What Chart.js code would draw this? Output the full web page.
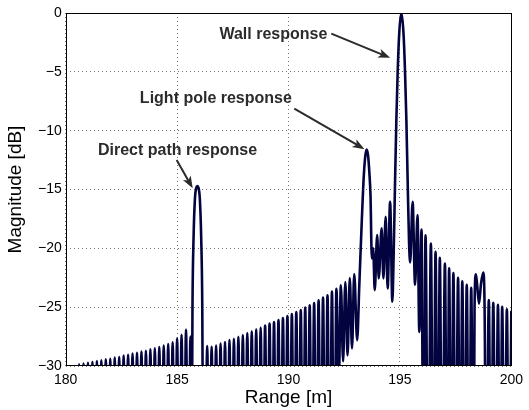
<!DOCTYPE html>
<html lang="en">
<head>
  <meta charset="UTF-8" />
  <title>Range profile</title>
  <script src="https://cdn.jsdelivr.net/npm/chart.js"></script>
  <style>
    html, body { margin: 0; padding: 0; background: #ffffff; }
    #wrap { width: 529px; height: 410px; position: relative; }
  </style>
</head>
<body>
  <div id="wrap"><canvas id="grafico"></canvas></div>

  <script>
    // sidelobes before the direct path return (troughs fall below the axis)
    var rangeSideA = [180.5, 180.6, 180.7, 180.8, 180.9, 181.0, 181.1, 181.2, 181.3, 181.4, 181.5, 181.6, 181.7,
      181.8, 181.9, 182.0, 182.1, 182.2, 182.3, 182.4, 182.5, 182.6, 182.7, 182.8, 182.9, 183.0, 183.1, 183.2,
      183.3, 183.4, 183.5, 183.6, 183.7, 183.8, 183.9, 184.0, 184.1, 184.2, 184.3, 184.4, 184.5, 184.6, 184.7,
      184.8, 184.9, 185.0, 185.1, 185.2, 185.3, 185.4, 185.5, 185.6];
    var magSideA = [-45, -29.86, -45, -29.8, -45, -29.72, -45, -29.66, -45, -29.58, -45, -29.52, -45,
      -29.43, -45, -29.38, -45, -29.29, -45, -29.24, -45, -29.12, -45, -29.04, -45, -28.95, -45, -28.87,
      -45, -28.78, -45, -28.7, -45, -28.58, -45, -28.5, -45, -28.39, -45, -28.27, -45, -28.13, -45,
      -27.99, -45, -27.65, -45, -27.35, -45, -26.9, -45, -27.5];

    // direct path main lobe
    var rangeDirect = [185.65, 185.69, 185.74, 185.8, 185.86, 185.91, 185.96, 186.02, 186.08, 186.13, 186.17];
    var magDirect = [-40, -25, -19, -15.8, -14.85, -14.7, -14.85, -15.8, -19, -25, -40];

    // sidelobes between direct path and light pole
    var rangeSideB = [186.25, 186.35, 186.45, 186.55, 186.65, 186.75, 186.85, 186.95, 187.05, 187.15,
      187.25, 187.35, 187.45, 187.55, 187.65, 187.75, 187.85, 187.95, 188.05, 188.15, 188.25, 188.35,
      188.45, 188.55, 188.65, 188.75, 188.85, 188.95, 189.05, 189.15, 189.25, 189.35, 189.45, 189.55,
      189.65, 189.75, 189.85, 189.95, 190.05, 190.15, 190.25, 190.35, 190.45, 190.55, 190.65, 190.75,
      190.85, 190.95, 191.05, 191.15, 191.25, 191.35, 191.45, 191.55, 191.65, 191.75, 191.85, 191.95,
      192.05, 192.15, 192.25, 192.35, 192.45, 192.55, 192.65, 192.75, 192.85, 192.95];
    var magSideB = [-45, -28.3, -45, -28.36, -45, -28.27, -45, -28.1, -45, -27.96,
      -45, -27.79, -45, -27.68, -45, -27.51, -45, -27.37, -45, -27.2, -45, -27.05,
      -45, -26.88, -45, -26.74, -45, -26.57, -45, -26.4, -45, -26.26, -45, -26.09,
      -45, -25.92, -45, -25.75, -45, -25.58, -45, -25.41, -45, -25.24, -45, -25.04,
      -45, -24.84, -45, -24.65, -45, -24.42, -45, -24.19, -45, -23.99, -45, -23.68,
      -45, -23.43, -32, -23.14, -29.6, -22.86, -29.1, -22.52, -28.5, -22.18];

    // light pole lobe, interference ripple and wall lobe
    var rangePoleWall = [193.08, 193.18, 193.29, 193.38, 193.45, 193.51, 193.57, 193.63, 193.68, 193.74,
      193.8, 193.87, 193.98, 194.05, 194.18, 194.26, 194.36, 194.45, 194.56, 194.66,
      194.72, 194.78, 194.84, 194.9, 194.97, 195.065, 195.16, 195.23, 195.29, 195.35, 195.41,
      195.46, 195.57, 195.68, 195.79, 195.87, 195.97];
    var magPoleWall = [-27.8, -23, -17.6, -13.8, -12.1, -11.6, -12.1, -13.6, -15.5, -20.85,
      -20.0, -23.55, -18.87, -22.55, -18.3, -22.55, -17.31, -23.4, -16.04, -24.53,
      -20.5, -14.5, -9.1, -5, -1.7, 0, -1.7, -5, -9.1, -14.5, -19.5,
      -21.2, -16.04, -23.1, -17.17, -27.1, -18.4];

    // sidelobes past the wall, with the small double hump near 198.5 m
    var rangeSideC = [196.06, 196.15, 196.27, 196.39, 196.5, 196.6, 196.7, 196.79, 196.9, 197.02,
      197.12, 197.21, 197.3, 197.4, 197.5, 197.61, 197.7, 197.8, 197.9, 198.0, 198.1, 198.2,
      198.3, 198.35, 198.41, 198.47, 198.55, 198.64, 198.74, 198.8, 198.88,
      198.99, 199.09, 199.19, 199.3, 199.4, 199.5, 199.59, 199.7, 199.8, 199.9, 200.0];
    var magSideC = [-45, -18.9, -45, -19.6, -45, -20.3, -45, -20.8, -45, -21.3,
      -45, -21.7, -45, -22.1, -45, -22.5, -45, -22.8, -45, -23.1, -45, -23.35,
      -45, -25, -22.2, -23.2, -24.7, -23.0, -22.05, -25, -45,
      -24.4, -45, -24.63, -45, -24.8, -45, -24.97, -45, -25.19, -45, -25.4];

    var xTicks = [180, 185, 190, 195, 200];
    var yTicks = [0, -5, -10, -15, -20, -25, -30];

    // labels with arrows, in data units
    var notas = [
      { text: 'Wall response', x: 189.32, y: -1.84, fromX: 191.92, fromY: -1.75, toX: 194.56, toY: -3.81 },
      { text: 'Light pole response', x: 186.74, y: -7.3, fromX: 190.26, fromY: -8.12, toX: 193.41, toY: -11.57 },
      { text: 'Direct path response', x: 185.02, y: -11.69, fromX: 184.98, fromY: -12.49, toX: 185.7, toY: -14.89 }
    ];

    var rangeAll = [].concat(rangeSideA, rangeDirect, rangeSideB, rangePoleWall, rangeSideC);
    var magAll = [].concat(magSideA, magDirect, magSideB, magPoleWall, magSideC);
    var pontos = rangeAll.map(function (r, i) { return { x: r, y: magAll[i] }; });

    var corTexto = '#2b2b2b';

    function desenharSeta(ctx, x0, y0, x1, y1) {
      var ang = Math.atan2(y1 - y0, x1 - x0);
      var c = Math.cos(ang), s = Math.sin(ang);
      var comp = 12, meia = 4.5;
      ctx.lineWidth = 2;
      ctx.beginPath();
      ctx.moveTo(x0, y0);
      ctx.lineTo(x1 - comp * 0.7 * c, y1 - comp * 0.7 * s);
      ctx.stroke();
      var bx = x1 - comp * c, by = y1 - comp * s;
      ctx.beginPath();
      ctx.moveTo(x1, y1);
      ctx.lineTo(bx + meia * s, by - meia * c);
      ctx.lineTo(x1 - comp * 0.75 * c, y1 - comp * 0.75 * s);
      ctx.lineTo(bx - meia * s, by + meia * c);
      ctx.closePath();
      ctx.fill();
    }

    // axes box and the annotation labels
    var caixaENotas = {
      id: 'caixaENotas',
      afterDatasetsDraw: function (chart) {
        var ctx = chart.ctx, a = chart.chartArea;
        var sx = chart.scales.x, sy = chart.scales.y;
        ctx.save();
        ctx.strokeStyle = '#000';
        ctx.lineWidth = 1;
        ctx.strokeRect(Math.round(a.left) + 0.5, Math.round(a.top) + 0.5,
          Math.round(a.right - a.left) - 1, Math.round(a.bottom - a.top) - 1);

        ctx.font = 'bold 16px "Liberation Sans", Arial, sans-serif';
        ctx.fillStyle = corTexto;
        ctx.strokeStyle = corTexto;
        ctx.textAlign = 'center';
        ctx.textBaseline = 'middle';
        notas.forEach(function (n) {
          ctx.fillText(n.text, sx.getPixelForValue(n.x), sy.getPixelForValue(n.y));
          desenharSeta(ctx,
            sx.getPixelForValue(n.fromX), sy.getPixelForValue(n.fromY),
            sx.getPixelForValue(n.toX), sy.getPixelForValue(n.toY));
        });
        ctx.restore();
      }
    };

    var fonteEixo = { family: '"Liberation Sans", Arial, sans-serif', size: 14 };
    var fonteTitulo = { family: '"Liberation Sans", Arial, sans-serif', size: 19 };

    new Chart(document.getElementById('grafico'), {
      type: 'line',
      data: {
        datasets: [{
          data: pontos,
          borderColor: '#03033f',
          borderWidth: 2.6,
          pointRadius: 0,
          cubicInterpolationMode: 'monotone',
          borderJoinStyle: 'round',
          borderCapStyle: 'round',
          fill: false
        }]
      },
      options: {
        responsive: true,
        maintainAspectRatio: false,
        animation: false,
        devicePixelRatio: 1,
        layout: { padding: { left: 0, top: 13, right: 15.5, bottom: 0 } },
        plugins: { legend: { display: false }, tooltip: { enabled: false } },
        scales: {
          x: {
            type: 'linear',
            min: 180,
            max: 200,
            afterBuildTicks: function (s) { s.ticks = xTicks.map(function (v) { return { value: v }; }); },
            afterFit: function (s) { s.height = 44; },
            ticks: { color: '#000', font: fonteEixo, padding: 6, maxRotation: 0 },
            grid: { color: 'rgba(0,0,0,0.55)', lineWidth: 1, drawTicks: false },
            border: { display: false, dash: [1, 3] },
            title: { display: true, text: 'Range [m]', color: '#000', font: fonteTitulo, padding: { top: 0, bottom: 0.5 } }
          },
          y: {
            type: 'linear',
            min: -30,
            max: 0,
            afterBuildTicks: function (s) { s.ticks = yTicks.map(function (v) { return { value: v }; }); },
            afterFit: function (s) { s.width = 65.7; },
            ticks: {
              color: '#000', font: fonteEixo, padding: 4,
              callback: function (v) { return String(v).replace('-', '\u2212'); }
            },
            grid: { color: 'rgba(0,0,0,0.55)', lineWidth: 1, drawTicks: false },
            border: { display: false, dash: [1, 3] },
            title: { display: true, text: 'Magnitude [dB]', color: '#000', font: fonteTitulo, padding: { top: 4.5, bottom: 0 } }
          }
        }
      },
      plugins: [caixaENotas]
    });
  </script>
</body>
</html>
